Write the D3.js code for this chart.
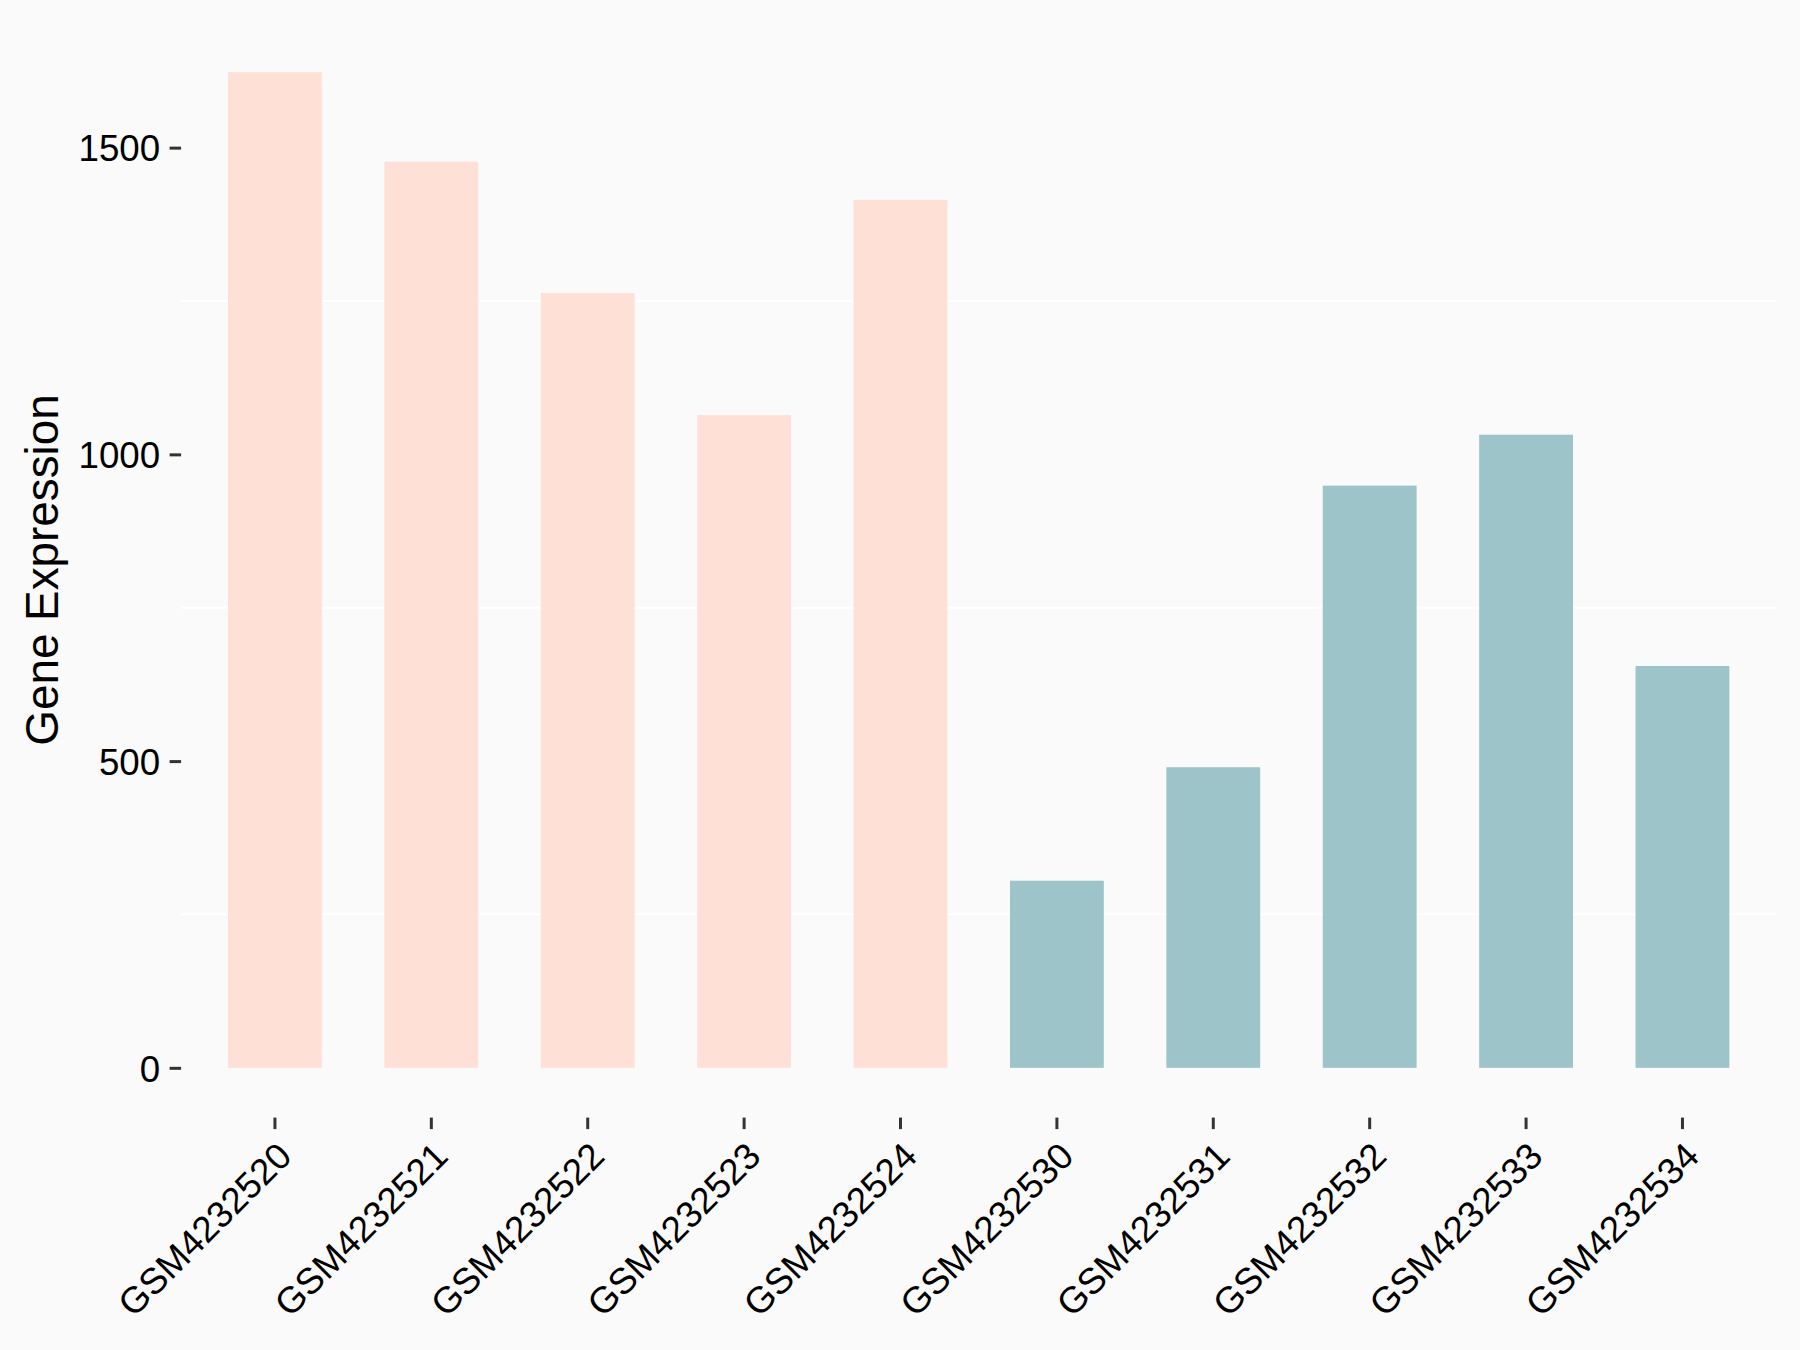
<!DOCTYPE html>
<html>
<head>
<meta charset="utf-8">
<script src="https://cdn.jsdelivr.net/npm/d3@7"></script>
<style>
  html, body { margin: 0; padding: 0; background: #FAFAFA; }
  svg { display: block; }
</style>
</head>
<body>
<script>
const samples = ["GSM4232520","GSM4232521","GSM4232522","GSM4232523","GSM4232524",
                 "GSM4232530","GSM4232531","GSM4232532","GSM4232533","GSM4232534"];
const expression = [1623, 1477, 1263, 1064, 1415, 305, 490, 949, 1032, 655];
const groups = ["A","A","A","A","A","B","B","B","B","B"];
const groupColors = { A: "#FEE0D6", B: "#9DC4C8" };
const yTicks = [0, 500, 1000, 1500];
const yMinor = [250, 750, 1250];
const yTitle = "Gene Expression";

const W = 1800, H = 1350;
const panel = { left: 181.1, right: 1776.3, top: 22.4, bottom: 1117.6 };
const fontFamily = "'Liberation Sans', Arial, sans-serif";

const svg = d3.select("body").append("svg")
  .attr("width", W).attr("height", H)
  .style("background", "#FAFAFA");

svg.append("rect").attr("width", W).attr("height", H).attr("fill", "#FAFAFA");

const maxV = d3.max(expression);
const y = d3.scaleLinear()
  .domain([-0.05 * maxV, maxV * 1.05])
  .range([panel.bottom, panel.top]);

const x = d3.scaleBand()
  .domain(samples)
  .range([panel.left, panel.right])
  .paddingInner(0.4)
  .paddingOuter(0.3);

// minor grid lines
svg.append("g").selectAll("line").data(yMinor).join("line")
  .attr("x1", panel.left).attr("x2", panel.right)
  .attr("y1", d => y(d)).attr("y2", d => y(d))
  .attr("stroke", "#FFFFFF").attr("stroke-width", 1.8);

// bars
const data = samples.map((s, i) => ({ s, v: expression[i], g: groups[i] }));
svg.append("g").selectAll("rect").data(data).join("rect")
  .attr("x", d => x(d.s))
  .attr("width", x.bandwidth())
  .attr("y", d => y(d.v))
  .attr("height", d => y(0) - y(d.v))
  .attr("fill", d => groupColors[d.g]);

// y axis
const yAxis = svg.append("g")
  .attr("transform", `translate(${panel.left},0)`)
  .call(d3.axisLeft(y).tickValues(yTicks).tickFormat(d3.format("d")).tickSize(11.5).tickPadding(9.5));
yAxis.select(".domain").remove();
yAxis.selectAll(".tick line").attr("stroke", "#333333").attr("stroke-width", 3);
yAxis.selectAll(".tick text")
  .attr("fill", "#000").style("font-family", fontFamily).style("font-size", "36.7px")
  .attr("dy", "0.36em");

// x axis
const xAxis = svg.append("g")
  .attr("transform", `translate(0,${panel.bottom})`)
  .call(d3.axisBottom(x).tickSize(11.5).tickPadding(0));
xAxis.select(".domain").remove();
xAxis.selectAll(".tick line").attr("stroke", "#333333").attr("stroke-width", 3);
xAxis.selectAll(".tick text")
  .attr("fill", "#000").style("font-family", fontFamily).style("font-size", "36.7px")
  .attr("text-anchor", "end")
  .attr("x", 0).attr("y", 0).attr("dy", "0.72em")
  .attr("transform", "translate(0,22) rotate(-45)");

// y title
svg.append("text")
  .attr("transform", `translate(58,${(panel.top + panel.bottom) / 2}) rotate(-90)`)
  .attr("text-anchor", "middle")
  .style("font-family", fontFamily).style("font-size", "45.8px")
  .attr("fill", "#000")
  .text(yTitle);
</script>
</body>
</html>
